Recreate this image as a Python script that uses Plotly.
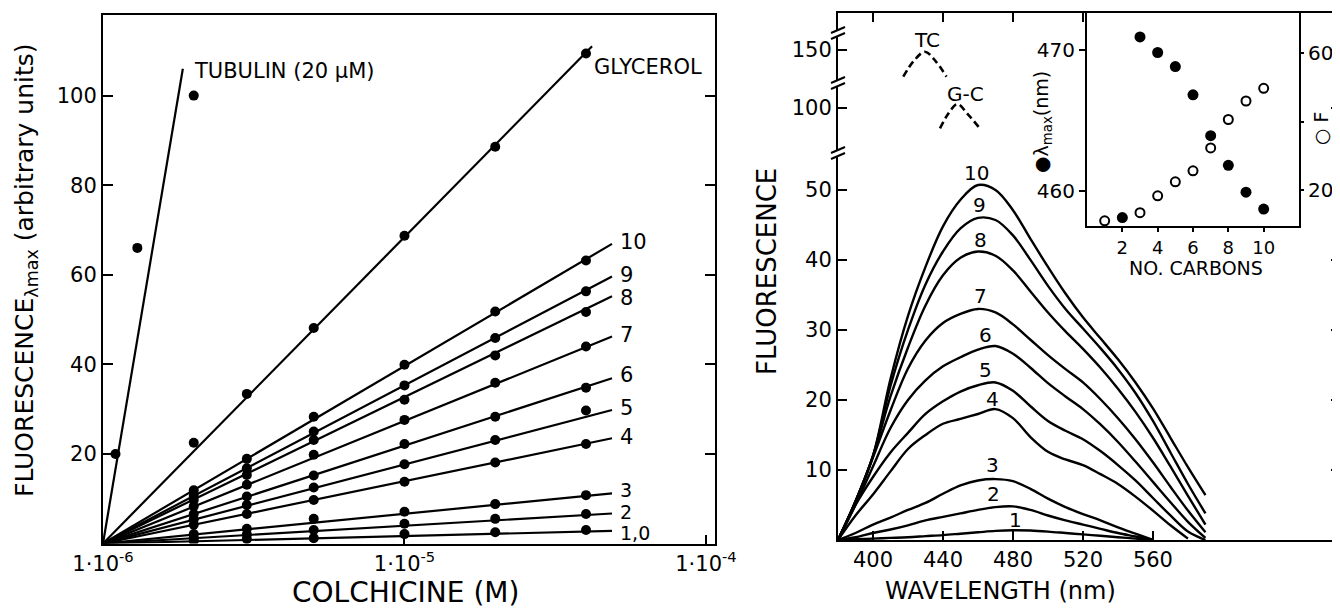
import plotly.graph_objects as go
import math

# ---------------- Left panel: fluorescence vs colchicine ----------------
conc = [2e-6, 3e-6, 5e-6, 1e-5, 2e-5, 4e-5]
tub_conc = [1.1e-6, 1.3e-6, 2e-6]
tub_val = [20, 66, 100]
tub_fit_x = [1e-6, 1.84e-6]
tub_fit_y = [0, 106]
gly_val = [22.5, 33.4, 48.1, 68.7, 88.6, 109.4]
gly_fit_x = [1e-6, 4.19e-5]
gly_fit_y = [0, 111]

series_names = ["10", "9", "8", "7", "6", "5", "4", "3", "2", "1,0"]
s10 = [11.9, 18.9, 28.3, 39.9, 51.8, 63.2]
s9 = [10.6, 16.8, 25.0, 35.3, 45.9, 56.3]
s8 = [9.7, 15.3, 23.1, 32.1, 42.0, 51.7]
s7 = [8.3, 13.1, 19.8, 27.6, 35.9, 44.0]
s6 = [6.6, 10.5, 15.2, 22.2, 28.3, 34.8]
s5 = [5.4, 8.6, 12.5, 17.7, 23.1, 29.7]
s4 = [4.2, 6.6, 9.7, 13.8, 18.1, 22.2]
s3 = [2.1, 3.3, 5.5, 7.1, 8.8, 10.8]
s2 = [1.3, 2.0, 3.0, 4.4, 5.5, 6.6]
s1 = [0.6, 1.0, 1.2, 2.1, 2.5, 3.0]
series_vals = [s10, s9, s8, s7, s6, s5, s4, s3, s2, s1]
fit_start_x = 1e-6
fit_end_x = 4.88e-5
fit_end_y = [66.9, 59.6, 55.2, 46.2, 36.9, 29.8, 23.5, 11.2, 6.7, 2.8]
label_y = [67.4, 60.0, 54.9, 46.6, 37.7, 30.2, 23.7, 12.0, 7.0, 2.3]
label_size = [21, 21, 21, 21, 21, 21, 21, 19, 19, 19]

# ---------------- Right panel: emission spectra ----------------
wl = [380, 390, 400, 410, 420, 430, 440, 450, 460, 470, 480, 490, 500,
      510, 520, 530, 540, 550, 560, 570, 580, 590]
sp10 = [0, 5.5, 12, 23, 32, 39, 44.8, 48.6, 50.7, 50, 47.1, 43, 39, 35.2, 31.8, 28.8, 25.8, 22.5, 18.8, 14.6, 10.4, 6.4]
sp9 = [0, 5.5, 12, 22, 30, 36.5, 41.2, 44.5, 46, 45.7, 43.5, 40, 36.3, 33, 30.2, 27.4, 24.4, 21, 17, 12.5, 8, 3.8]
sp8 = [0, 5.5, 12, 20.5, 27.5, 33.5, 37.8, 40.3, 41.2, 40.6, 38.5, 35.5, 32.5, 29.8, 27.3, 24.6, 21.6, 18.3, 14.6, 10.5, 6.3, 2.2]
sp7 = [0, 5.5, 11.8, 18.5, 24.5, 28.5, 31, 32.3, 33, 32.5, 30.8, 28.6, 26.4, 24.4, 22.5, 20.1, 17.4, 14.4, 11.1, 7.6, 4.2, 1.1]
sp6 = [0, 5, 10.5, 16, 20, 22.8, 24.8, 26.1, 27.2, 27.7, 26.6, 24.6, 22.4, 20.5, 18.7, 16.5, 14, 11.2, 8.3, 5.4, 2.6, 0.3]
sp5 = [0, 5, 9, 12.5, 15.3, 18, 19.8, 21.2, 22.1, 22.5, 21.3, 19.1, 17, 15.6, 14.4, 12.7, 10.7, 8.5, 6, 3.5, 1.2, 0]
sp4 = [0, 3.5, 6.5, 9.8, 13, 15, 16.6, 17.3, 18, 18.7, 17.4, 14.7, 12.6, 11.5, 10.7, 9.4, 8, 6.2, 4.2, 2.1, 0.2, None]
sp3 = [0, 1, 2.2, 3.2, 4.3, 5.3, 6.6, 7.8, 8.5, 8.7, 8.4, 7.3, 5.9, 4.7, 3.7, 2.8, 1.8, 0.9, 0, None, None, None]
sp2 = [0, 0.4, 1.0, 1.5, 2.1, 2.8, 3.3, 3.8, 4.3, 4.7, 4.8, 4.3, 3.5, 2.8, 2.2, 1.6, 1.0, 0.5, 0, None, None, None]
sp1 = [0, 0.1, 0.2, 0.3, 0.4, 0.55, 0.7, 0.9, 1.1, 1.3, 1.4, 1.35, 1.2, 1.0, 0.8, 0.6, 0.4, 0.2, 0, None, None, None]
spectra = [sp10, sp9, sp8, sp7, sp6, sp5, sp4, sp3, sp2, sp1]
spec_names = ["10", "9", "8", "7", "6", "5", "4", "3", "2", "1"]
spec_label_x = [459.2, 460.9, 461.5, 461.5, 464.4, 464.4, 468.2, 468.2, 469.1, 481.5]
spec_label_y = [52.4, 47.9, 42.9, 34.8, 29.3, 24.3, 20.2, 10.7, 6.6, 2.9]

tc_wl = [417.3, 423, 429.7, 436, 442]
tc_val = [127, 140, 148.5, 140, 127]
gc_wl = [438.3, 443, 448.2, 454, 461]
gc_val = [82.5, 95, 103.4, 95, 82.5]

# ---------------- Inset ----------------
carb_lam = [2, 3, 4, 5, 6, 7, 8, 9, 10]
lam_max = [458.1, 470.9, 469.8, 468.8, 466.8, 463.9, 461.8, 459.9, 458.7]
carb_F = [1, 3, 4, 5, 6, 7, 8, 9, 10]
F_val = [11.0, 13.4, 18.3, 22.4, 25.6, 32.3, 40.6, 46.0, 49.7]

# page has an 8 px body margin; the figure fills the rest of the window
OFF = 8
W, H = 1340 - OFF, 611 - OFF
def px(x):
    return (x - OFF) / W
def py(y):
    return 1 - (y - OFF) / H

FONT = "DejaVu Sans"
BLK = "black"
TICKF = dict(family=FONT, size=21, color=BLK)

fig = go.Figure()

# Left panel traces
fig.add_trace(go.Scatter(x=tub_fit_x, y=tub_fit_y, mode="lines",
                         line=dict(color=BLK, width=2.2), xaxis="x", yaxis="y"))
fig.add_trace(go.Scatter(x=tub_conc, y=tub_val, mode="markers",
                         marker=dict(color=BLK, size=10), xaxis="x", yaxis="y"))
fig.add_trace(go.Scatter(x=gly_fit_x, y=gly_fit_y, mode="lines",
                         line=dict(color=BLK, width=2.2), xaxis="x", yaxis="y"))
fig.add_trace(go.Scatter(x=conc, y=gly_val, mode="markers",
                         marker=dict(color=BLK, size=10), xaxis="x", yaxis="y"))
for vals, ye in zip(series_vals, fit_end_y):
    fig.add_trace(go.Scatter(x=[fit_start_x, fit_end_x], y=[0, ye], mode="lines",
                             line=dict(color=BLK, width=2.2), xaxis="x", yaxis="y"))
    fig.add_trace(go.Scatter(x=conc, y=vals, mode="markers",
                             marker=dict(color=BLK, size=10), xaxis="x", yaxis="y"))

# Right panel spectra
for sp in spectra:
    fig.add_trace(go.Scatter(x=wl, y=sp, mode="lines", line_shape="spline",
                             line=dict(color=BLK, width=2.4, smoothing=1.0),
                             xaxis="x2", yaxis="y2"))
for xs, ys in [(tc_wl, tc_val), (gc_wl, gc_val)]:
    fig.add_trace(go.Scatter(x=xs, y=ys, mode="lines", line_shape="spline",
                             line=dict(color=BLK, width=2.6, dash="7px,4px"),
                             xaxis="x3", yaxis="y3"))

# Inset
fig.add_trace(go.Scatter(x=carb_lam, y=lam_max, mode="markers",
                         marker=dict(color=BLK, size=11), xaxis="x4", yaxis="y4"))
fig.add_trace(go.Scatter(x=carb_F, y=F_val, mode="markers",
                         marker=dict(color=BLK, size=9, symbol="circle-open",
                                     line=dict(width=2, color=BLK)),
                         xaxis="x4", yaxis="y5"))

axcommon = dict(showline=True, linecolor=BLK, linewidth=2, showgrid=False,
                zeroline=False, tickcolor=BLK, tickwidth=2, tickfont=TICKF,
                automargin=False)
INSF = dict(family=FONT, size=18, color=BLK)

fig.update_layout(
    width=W, height=H, showlegend=False,
    margin=dict(l=0, r=0, t=0, b=0, pad=0, autoexpand=False),
    paper_bgcolor="white", plot_bgcolor="white",
    font=dict(family=FONT, color=BLK),
    xaxis=dict(axcommon, type="log", domain=[px(103), px(715)], range=[-6, -3.97],
               anchor="y", mirror=True, ticks="inside", ticklen=9,
               tickvals=[1e-6, 1e-5, 1e-4],
               ticktext=["1·10<sup>-6</sup>", "1·10<sup>-5</sup>", "1·10<sup>-4</sup>"]),
    yaxis=dict(axcommon, domain=[py(543.5), py(15)], range=[0, 118], anchor="x",
               mirror="ticks", ticks="inside", ticklen=10,
               tickvals=[20, 40, 60, 80, 100]),
    xaxis2=dict(axcommon, domain=[px(838), 1.0], range=[380, 666.9], anchor="y2",
                ticks="inside", ticklen=9, tickvals=[400, 440, 480, 520, 560]),
    yaxis2=dict(axcommon, domain=[py(540), py(157)], range=[0, 54.7], anchor="x2",
                mirror="ticks", ticks="inside", ticklen=9,
                tickvals=[10, 20, 30, 40, 50]),
    xaxis3=dict(axcommon, domain=[px(838), 1.0], range=[380, 666.9], anchor="y3",
                side="top", ticks="inside", ticklen=9, showticklabels=False,
                tickvals=[400, 440, 480, 520, 560]),
    yaxis3=dict(axcommon, domain=[py(157), py(13)], range=[57.8, 181.9], anchor="x3",
                mirror="ticks", ticks="inside", ticklen=9, tickvals=[100, 150]),
    xaxis4=dict(axcommon, domain=[px(1087), px(1299)], range=[0, 12], anchor="y4",
                mirror=True, ticks="outside", ticklen=4, tickvals=[2, 4, 6, 8, 10],
                tickfont=INSF),
    yaxis4=dict(axcommon, domain=[py(226), py(13)], range=[457.5, 472.6], anchor="x4",
                ticks="outside", ticklen=6, tickvals=[460, 470],
                tickfont=dict(family=FONT, size=20, color=BLK)),
    yaxis5=dict(axcommon, overlaying="y4", side="right", anchor="x4",
                range=[9.5, 71.7], ticks="outside", ticklen=3,
                tickvals=[20, 40, 60], ticktext=["20", " ", "60"],
                tickfont=dict(family=FONT, size=20, color=BLK)),
)

ann = []
def A(**k):
    d = dict(showarrow=False, xanchor="center", yanchor="middle",
             font=dict(family=FONT, size=21, color=BLK))
    d.update(k)
    ann.append(d)

# left panel labels
A(text="TUBULIN (20 μM)", x=math.log10(2e-6), y=105.6, xref="x", yref="y",
  xanchor="left", xshift=-2)
A(text="GLYCEROL", x=math.log10(gly_fit_x[1]), y=106.5, xref="x", yref="y",
  xanchor="left")
for name, ly, fs in zip(series_names, label_y, label_size):
    A(text=name, x=math.log10(fit_end_x), y=ly, xref="x", yref="y",
      xanchor="left", xshift=6, font=dict(family=FONT, size=fs, color=BLK))
A(text="FLUORESCENCE<sub>λmax</sub> (arbitrary units)", x=px(26), y=py(270),
  xref="paper", yref="paper", textangle=-90, font=dict(family=FONT, size=25, color=BLK))
A(text="COLCHICINE (M)", x=px(405), y=py(592), xref="paper", yref="paper",
  font=dict(family=FONT, size=28, color=BLK))

# right panel labels
for name, lx, ly in zip(spec_names, spec_label_x, spec_label_y):
    A(text=name, x=lx, y=ly, xref="x2", yref="y2", font=dict(family=FONT, size=20, color=BLK))
A(text="TC", x=430.7, y=158.6, xref="x3", yref="y3", font=dict(family=FONT, size=20, color=BLK))
A(text="G-C", x=453, y=112, xref="x3", yref="y3", font=dict(family=FONT, size=20, color=BLK))
A(text="FLUORESCENCE", x=px(767), y=py(271), xref="paper", yref="paper",
  textangle=-90, font=dict(family=FONT, size=26, color=BLK))
A(text="WAVELENGTH (nm)", x=px(1000), y=py(591), xref="paper", yref="paper",
  font=dict(family=FONT, size=24, color=BLK))

# inset labels
A(text="NO. CARBONS", x=px(1196), y=py(268), xref="paper", yref="paper",
  font=dict(family=FONT, size=19, color=BLK))
A(text="●λ<sub>max</sub>(nm)", x=px(1042), y=py(122), xref="paper", yref="paper",
  textangle=-90, font=dict(family=FONT, size=19, color=BLK))
A(text="○ F", x=px(1321), y=py(128), xref="paper", yref="paper",
  textangle=-90, font=dict(family=FONT, size=19, color=BLK))

fig.update_layout(annotations=ann)

# axis break marks on the right panel's left axis
shapes = []
for yb in [33, 83, 153]:
    shapes.append(dict(type="rect", xref="paper", yref="paper",
                       x0=px(832), x1=px(845), y0=py(yb + 3), y1=py(yb - 3),
                       fillcolor="white", line=dict(width=0), layer="above"))
    for off in [-3, 3]:
        shapes.append(dict(type="line", xref="paper", yref="paper",
                           x0=px(831), y0=py(yb + off + 3), x1=px(845), y1=py(yb + off - 3),
                           line=dict(color=BLK, width=2), layer="above"))
fig.update_layout(shapes=shapes)

fig.write_html("out.html")
